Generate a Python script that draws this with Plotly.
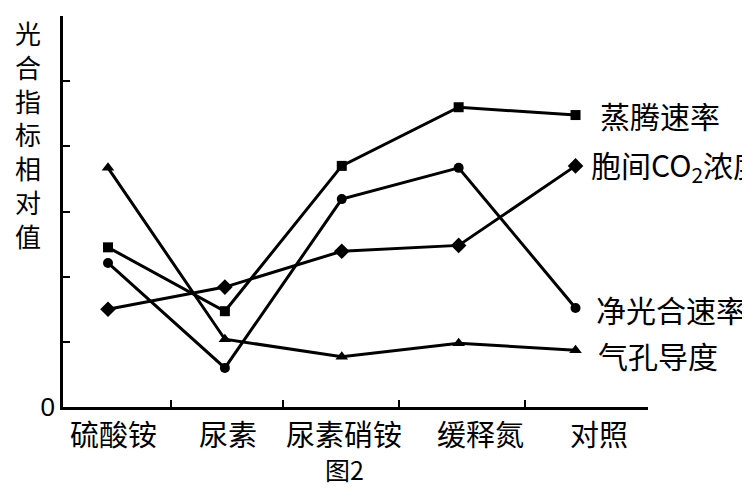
import plotly.graph_objects as go

CATEGORIES = ["硫酸铵", "尿素", "尿素硝铵", "缓释氮", "对照"]
X_POS = [0, 1, 2, 3, 4]

TRANSPIRATION = [2.45, 1.47, 3.70, 4.60, 4.48]   # 蒸腾速率
INTERCELLULAR_CO2 = [1.50, 1.84, 2.39, 2.48, 3.70]  # 胞间CO2浓度
NET_PHOTO = [2.21, 0.60, 3.19, 3.67, 1.52]        # 净光合速率
STOMATAL = [3.67, 1.04, 0.77, 0.98, 0.87]         # 气孔导度

# name, values, marker symbol, marker size, label shift (px x, px y)
SERIES = [
    ("蒸腾速率", TRANSPIRATION, "square", 10, (22, 0)),
    ("胞间CO<sub>2</sub>浓度", INTERCELLULAR_CO2, "diamond", 12, (13, 0)),
    ("净光合速率", NET_PHOTO, "circle", 10, (18, -1)),
    ("气孔导度", STOMATAL, "triangle-up", 11, (20, -5)),
]

FONT = "Noto Sans CJK SC"

fig = go.Figure()
for name, values, symbol, size, (dx, dy) in SERIES:
    fig.add_trace(
        go.Scatter(
            x=X_POS,
            y=values,
            mode="lines+markers",
            line={"color": "black", "width": 3},
            marker={"symbol": symbol, "size": size, "color": "black"},
            name=name,
            cliponaxis=False,
        )
    )
    # series label at the right end of each line
    fig.add_annotation(
        x=X_POS[-1],
        y=values[-1],
        xref="x",
        yref="y",
        xshift=dx,
        yshift=dy,
        text=name,
        showarrow=False,
        xanchor="left",
        yanchor="middle",
        font={"family": FONT, "size": 30, "color": "black"},
    )

# category labels below the axis
label_pos = [0.05, 1.03, 2.02, 3.19, 4.2]
for pos, cat in zip(label_pos, CATEGORIES):
    fig.add_annotation(
        x=pos,
        y=-0.008,
        xref="x",
        yref="paper",
        text=cat,
        showarrow=False,
        xanchor="center",
        yanchor="top",
        font={"family": FONT, "size": 29, "color": "black"},
    )

fig.add_annotation(
    x=2.02,
    y=-0.108,
    xref="x",
    yref="paper",
    text="图2",
    showarrow=False,
    xanchor="center",
    yanchor="top",
    font={"family": FONT, "size": 25, "color": "black"},
)

# vertical y-axis title
fig.add_annotation(
    x=0,
    y=1.0,
    xref="paper",
    yref="paper",
    xshift=-35,
    yshift=4,
    text="<br>".join("光合指标相对值"),
    showarrow=False,
    xanchor="center",
    yanchor="top",
    font={"family": FONT, "size": 26, "color": "black"},
)

fig.update_layout(
    width=750,
    height=500,
    margin={"l": 55, "r": 110, "t": 8, "b": 101},
    plot_bgcolor="white",
    paper_bgcolor="white",
    showlegend=False,
    font={"family": FONT, "color": "black"},
)
fig.update_xaxes(
    range=[-0.385, 4.62],
    tickvals=[0.54, 1.5, 2.49, 3.57, 4.62],
    ticktext=["", "", "", "", ""],
    ticks="inside",
    ticklen=7,
    tickwidth=2,
    tickcolor="black",
    showline=True,
    linecolor="black",
    linewidth=2.5,
    showgrid=False,
    zeroline=False,
)
fig.update_yaxes(
    range=[0, 6],
    tickvals=[0, 1, 2, 3, 4, 5, 6],
    ticktext=["0", "", "", "", "", "", ""],
    ticks="inside",
    ticklen=7,
    tickwidth=2,
    tickcolor="black",
    tickfont={"family": "Liberation Sans", "size": 26, "color": "black"},
    showline=True,
    linecolor="black",
    linewidth=2.5,
    showgrid=False,
    zeroline=False,
)

fig.write_html("out.html")
